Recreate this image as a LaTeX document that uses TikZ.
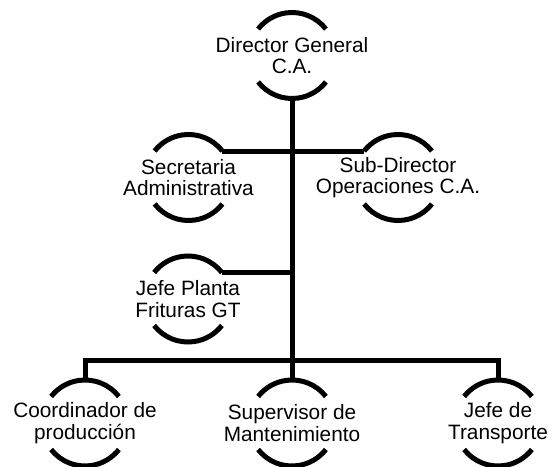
\documentclass[tikz,border=0pt]{standalone}
\usepackage{fontspec}
\setmainfont{Liberation Sans}
\usetikzlibrary{calc}

\begin{document}
\begin{tikzpicture}[
    x=1pt, y=1pt,
    line width=5pt,
    unit/.style={circle,minimum size=86pt,inner sep=0pt,outer sep=0pt},
    lbl/.style={align=center,inner sep=0pt,font=\fontsize{20.8}{21.5}\selectfont},
    link/.style={draw}]
  \useasboundingbox (0,0) rectangle (551,466);
  \node[unit] (gen) at (292,410.5) {};
  \node[lbl] (gentxt) at (gen) {Director General\\C.A.};
  \node[unit] (sec) at (188.5,288.5) {};
  \node[lbl] (sectxt) at (sec) {Secretaria\\Administrativa};
  \node[unit] (sub) at (398,288.5) {};
  \node[lbl] (subtxt) at (sub) {Sub-Director\\Operaciones C.A.};
  \node[unit] (jefe) at (188,167) {};
  \node[lbl] (jefetxt) at (jefe) {Jefe Planta\\Frituras GT};
  \node[unit] (coord) at (85,43) {};
  \node[lbl] (coordtxt) at (coord) {Coordinador de\\producción};
  \node[unit] (sup) at (292,43) {};
  \node[lbl] (suptxt) at (sup) {Supervisor de\\Mantenimiento};
  \node[unit] (transp) at (498,43) {};
  \node[lbl] (transptxt) at (transp) {Jefe de\\Transporte};
  % the open rings round every post
  \foreach \n in {gen,sec,sub,jefe,coord,sup,transp}
    \draw (\n.38) arc[start angle=38,end angle=142,radius=43pt]
          (\n.218) arc[start angle=218,end angle=322,radius=43pt];
  \coordinate (bus) at (292,105.5);
  \path[link] (gen.south) -- (sup.north);
  \path[link] (sec.38) -- (sub.142);
  \path[link] (jefe.38) -- (jefe.38 -| gen.south);
  \path[link] (coord.north) |- (bus) -| (transp.north);
\end{tikzpicture}
\end{document}
